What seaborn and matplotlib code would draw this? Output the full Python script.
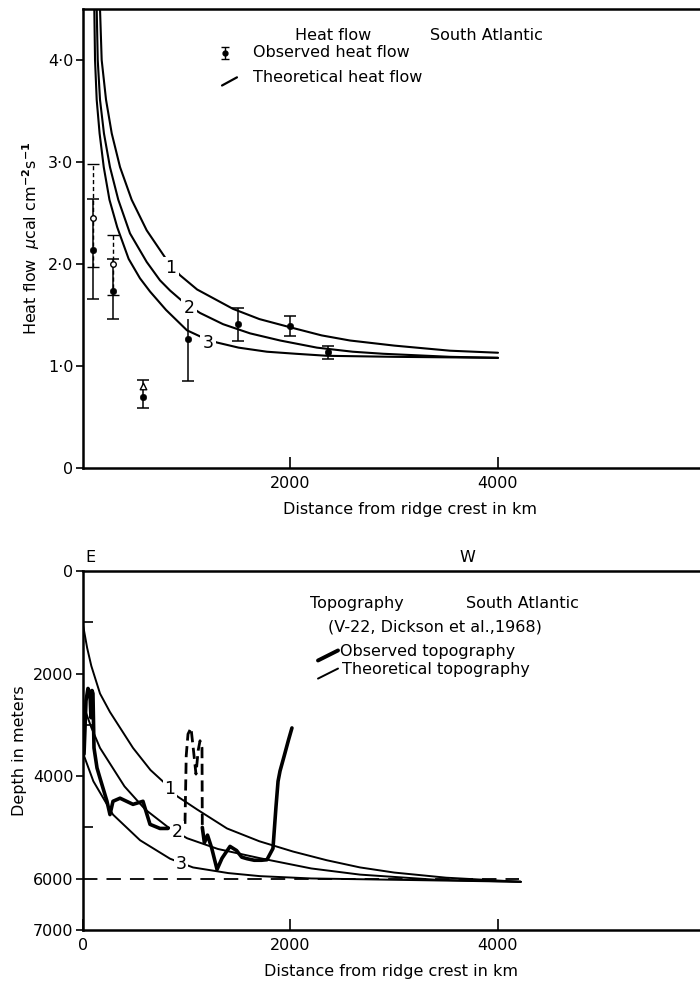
import numpy as np
import pandas as pd
import matplotlib
matplotlib.use("Agg")
import matplotlib.pyplot as plt
import seaborn as sns

# ---------------- data: heat flow (top panel) ----------------
hf_curve1_x = [164, 180, 222, 277, 357, 469, 614, 807, 935, 1100, 1446, 1700, 1995, 2300, 2573, 3000, 3537, 4000]
hf_curve1_y = [4.50, 4.0, 3.61, 3.28, 2.95, 2.63, 2.33, 2.04, 1.89, 1.75, 1.56, 1.46, 1.38, 1.30, 1.25, 1.20, 1.15, 1.13]
hf_curve2_x = [132, 142, 164, 202, 260, 340, 453, 614, 742, 839, 964, 1128, 1350, 1610, 1900, 2255, 2600, 2892, 3537, 4000]
hf_curve2_y = [4.50, 4.0, 3.61, 3.28, 2.95, 2.63, 2.30, 2.02, 1.84, 1.74, 1.63, 1.52, 1.41, 1.32, 1.25, 1.18, 1.14, 1.12, 1.09, 1.08]
hf_curve3_x = [109, 116, 132, 160, 200, 255, 330, 440, 549, 646, 800, 1002, 1150, 1292, 1500, 1773, 2050, 2352, 3000, 4000]
hf_curve3_y = [4.50, 4.0, 3.61, 3.28, 2.95, 2.63, 2.36, 2.05, 1.86, 1.73, 1.55, 1.35, 1.28, 1.23, 1.18, 1.14, 1.12, 1.10, 1.09, 1.08]

obs_x = [100, 290, 578, 1012, 1494, 1995, 2361]
obs_y = [2.14, 1.74, 0.70, 1.26, 1.41, 1.39, 1.14]
obs_lo = [1.66, 1.46, 0.59, 0.85, 1.25, 1.29, 1.07]
obs_hi = [2.64, 2.05, 0.86, 1.47, 1.57, 1.49, 1.20]

alt_x = [100, 290]
alt_y = [2.45, 2.00]
alt_lo = [1.97, 1.70]
alt_hi = [2.98, 2.28]
tri_x = [578]
tri_y = [0.80]

# ---------------- data: topography (bottom panel) ----------------
tp_curve1_x = [0, 40, 80, 164, 260, 482, 650, 790, 906, 1100, 1388, 1700, 2024, 2350, 2670, 3000, 3500, 4220]
tp_curve1_d = [1050, 1500, 1850, 2390, 2750, 3450, 3880, 4140, 4390, 4650, 5020, 5270, 5470, 5640, 5780, 5880, 5980, 6060]
tp_curve2_x = [0, 80, 164, 400, 600, 810, 1002, 1300, 1706, 2200, 2670, 3400, 4220]
tp_curve2_d = [2600, 3050, 3450, 4200, 4650, 4980, 5210, 5420, 5600, 5800, 5920, 6020, 6060]
tp_curve3_x = [0, 100, 289, 550, 839, 1060, 1400, 1706, 2200, 2670, 4220]
tp_curve3_d = [3550, 4100, 4750, 5250, 5610, 5780, 5890, 5950, 5995, 6010, 6060]

topo_a_x = [0, 10, 29, 48, 67, 77, 87, 96, 106, 135, 164, 231, 260, 289, 357, 482, 578, 617, 646, 742, 819]
topo_a_d = [3600, 3570, 2530, 2290, 2390, 2860, 2330, 2390, 3450, 3840, 4040, 4490, 4750, 4490, 4430, 4550, 4490, 4750, 4940, 5020, 5020]
topo_dash_x = [983, 995, 1012, 1041, 1065, 1089, 1110, 1128, 1147, 1150]
topo_dash_d = [4930, 3600, 3180, 3060, 3500, 3960, 3500, 3310, 3450, 5000]
topo_b_x = [1150, 1170, 1200, 1240, 1292, 1340, 1417, 1480, 1530, 1581, 1650, 1720, 1773, 1831, 1860, 1880, 1899, 1940, 1980, 2014]
topo_b_d = [5000, 5300, 5150, 5400, 5820, 5600, 5370, 5450, 5580, 5610, 5640, 5640, 5630, 5410, 4600, 4100, 3900, 3600, 3300, 3060]
ref_x = [0, 4200]
ref_d = [6000, 6000]

sns.set_style("ticks")
plt.rcParams['font.family'] = ['DejaVu Sans']
plt.rcParams['mathtext.fontset'] = 'dejavusans'
for k in ['text.color', 'axes.labelcolor', 'xtick.color', 'ytick.color', 'axes.edgecolor']:
    plt.rcParams[k] = 'black'
FS = 11.5

fig = plt.figure(figsize=(7, 9.82), dpi=100)
ax1 = fig.add_axes([83/700, 1-468/982, 617/700, (468-9)/982])
ax2 = fig.add_axes([83/700, 1-930/982, 617/700, (930-571)/982])

# ---------- top panel ----------
for cx, cy in [(hf_curve1_x, hf_curve1_y), (hf_curve2_x, hf_curve2_y), (hf_curve3_x, hf_curve3_y)]:
    sns.lineplot(x=cx, y=cy, ax=ax1, color='black', lw=1.5, sort=False, estimator=None)

obs = pd.DataFrame({'x': obs_x, 'y': obs_y, 'lo': obs_lo, 'hi': obs_hi})
ax1.errorbar(obs['x'], obs['y'], yerr=[obs['y']-obs['lo'], obs['hi']-obs['y']], fmt='none',
             ecolor='black', elinewidth=1.1, capsize=4, capthick=1.1)
sns.scatterplot(data=obs, x='x', y='y', ax=ax1, color='black', s=22, edgecolor='black', zorder=5)

alt = pd.DataFrame({'x': alt_x, 'y': alt_y, 'lo': alt_lo, 'hi': alt_hi})
eb = ax1.errorbar(alt['x'], alt['y'], yerr=[alt['y']-alt['lo'], alt['hi']-alt['y']], fmt='none',
                  ecolor='black', elinewidth=1.0, capsize=4, capthick=1.0)
for lc in eb[2]:
    lc.set_linestyle((0, (3, 2)))
sns.scatterplot(data=alt, x='x', y='y', ax=ax1, color='white', s=16, edgecolor='black', linewidth=1, zorder=6)
sns.scatterplot(x=tri_x, y=tri_y, ax=ax1, marker='^', color='white', s=22, edgecolor='black', linewidth=1, zorder=6)

for lbl, tx, ty in [('1', 848, 1.96), ('2', 1022, 1.57), ('3', 1205, 1.23)]:
    ax1.text(tx, ty, lbl, fontsize=FS+1, ha='center', va='center', zorder=7,
             bbox=dict(facecolor='white', edgecolor='none', pad=1.5))

ax1.text(2043, 4.245, 'Heat flow', fontsize=FS, va='center')
ax1.text(3345, 4.245, 'South Atlantic', fontsize=FS, va='center')
ax1.text(1639, 4.07, 'Observed heat flow', fontsize=FS, va='center')
ax1.text(1639, 3.83, 'Theoretical heat flow', fontsize=FS, va='center')
ax1.errorbar([1369], [4.07], yerr=[[0.06], [0.06]], fmt='o', color='black', ms=3.5, capsize=3, elinewidth=1)
ax1.plot([1340, 1484], [3.75, 3.83], color='black', lw=1.6)

ax1.set_xlim(0, 5947)
ax1.set_ylim(0, 4.5)
ax1.set_xticks([2000, 4000])
ax1.set_xticklabels(['2000', '4000'], fontsize=FS)
ax1.set_yticks([0, 1, 2, 3, 4])
ax1.set_yticklabels(['0', '1·0', '2·0', '3·0', '4·0'], fontsize=FS)
ax1.tick_params(axis='x', direction='in', length=8, width=1.2, pad=6)
ax1.tick_params(axis='y', direction='out', length=5, width=1.2, pad=2)
ax1.set_xlabel('Distance from ridge crest in km', fontsize=FS)
ax1.xaxis.set_label_coords(0.53, -0.075)
ax1.set_ylabel(r'Heat flow  $\mu$cal cm$^{\mathbf{-2}}$s$^{\mathbf{-1}}$', fontsize=FS, labelpad=4)
for s in ['top', 'left', 'bottom']:
    ax1.spines[s].set_linewidth(1.8)
ax1.spines['right'].set_visible(False)

# ---------- bottom panel ----------
for cx, cd in [(tp_curve1_x, tp_curve1_d), (tp_curve2_x, tp_curve2_d), (tp_curve3_x, tp_curve3_d)]:
    sns.lineplot(x=cx, y=cd, ax=ax2, color='black', lw=1.4, sort=False, estimator=None)
sns.lineplot(x=topo_a_x, y=topo_a_d, ax=ax2, color='black', lw=2.6, sort=False, estimator=None)
sns.lineplot(x=topo_b_x, y=topo_b_d, ax=ax2, color='black', lw=2.6, sort=False, estimator=None)
sns.lineplot(x=topo_dash_x, y=topo_dash_d, ax=ax2, color='black', lw=2.0, sort=False, estimator=None,
             linestyle=(0, (4, 2)))
sns.lineplot(x=ref_x, y=ref_d, ax=ax2, color='black', lw=1.3, sort=False, estimator=None,
             linestyle=(0, (8, 5)))

for lbl, tx, ty in [('1', 839, 4250), ('2', 906, 5080), ('3', 945, 5720)]:
    ax2.text(tx, ty, lbl, fontsize=FS+1, ha='center', va='center', zorder=7,
             bbox=dict(facecolor='white', edgecolor='none', pad=1.2))

ax2.text(2188, 627, 'Topography', fontsize=FS, va='center')
ax2.text(3692, 627, 'South Atlantic', fontsize=FS, va='center')
ax2.text(2361, 1098, '(V-22, Dickson et al.,1968)', fontsize=FS, va='center')
ax2.text(2477, 1569, 'Observed topography', fontsize=FS, va='center')
ax2.text(2496, 1922, 'Theoretical topography', fontsize=FS, va='center')
ax2.plot([2265, 2458], [1745, 1549], color='black', lw=2.8)
ax2.plot([2265, 2458], [2098, 1902], color='black', lw=1.4)
ax2.text(67, -255, 'E', fontsize=FS, ha='center', va='center', clip_on=False)
ax2.text(3701, -255, 'W', fontsize=FS, ha='center', va='center', clip_on=False)

ax2.set_xlim(0, 5947)
ax2.set_ylim(7000, 0)
ax2.set_xticks([0, 2000, 4000])
ax2.set_xticklabels(['0', '2000', '4000'], fontsize=FS)
ax2.set_yticks([0, 2000, 4000, 6000, 7000])
ax2.set_yticklabels(['0', '2000', '4000', '6000', '7000'], fontsize=FS)
ax2.set_yticks([1000, 3000, 5000], minor=True)
ax2.tick_params(axis='x', direction='in', length=8, width=1.2, pad=6)
ax2.tick_params(axis='y', which='major', direction='out', length=5, width=1.2, pad=2)
ax2.tick_params(axis='y', which='minor', direction='in', length=7, width=1.2)
ax2.set_xlabel('Distance from ridge crest in km', fontsize=FS)
ax2.xaxis.set_label_coords(0.50, -0.095)
ax2.set_ylabel('Depth in meters', fontsize=FS, labelpad=4)
for s in ['top', 'left', 'bottom']:
    ax2.spines[s].set_linewidth(1.8)
ax2.spines['right'].set_visible(False)

fig.savefig('out.png', dpi=100)
